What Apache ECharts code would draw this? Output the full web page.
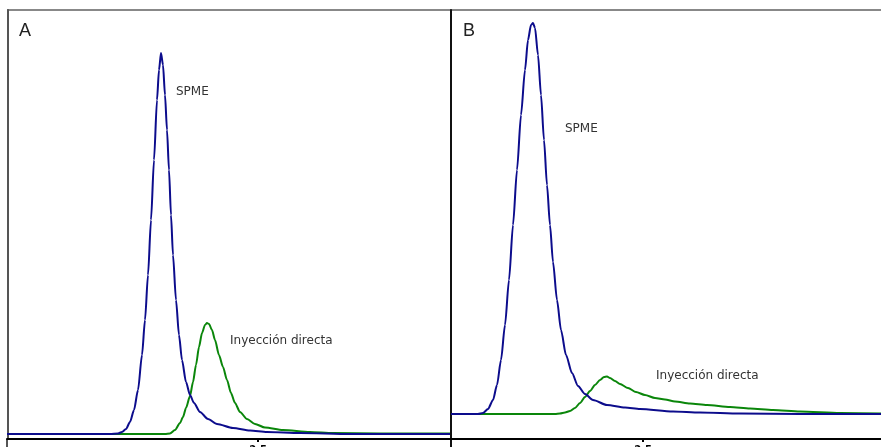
<!DOCTYPE html>
<html>
<head>
<meta charset="utf-8">
<script src="https://cdn.jsdelivr.net/npm/echarts@6/dist/echarts.min.js"></script>
<style>
  html, body { margin: 0; padding: 0; background: #fff; overflow: hidden; }
  #chart { width: 881px; height: 447px; }
</style>
</head>
<body>
<div id="chart"></div>
<script>
// Panel A — retention time (min) and detector response
const timeA_spme = [-0.01,0.52,1.02,1.10,1.14,1.18,1.22,1.26,1.30,1.34,1.37,1.40,1.43,1.46,1.49,1.51,1.53,1.55,1.57,1.59,1.61,1.63,1.65,1.68,1.71,1.74,1.78,1.82,1.86,1.92,2.00,2.09,2.25,2.42,2.59,2.92,3.42,3.92,4.42];
const respA_spme = [5,5,5,5.5,7,10,17,29,49,84,119,164,219,279,339,369,386,374,344,309,269,224,184,139,104,79,57,44,36,27,20,15,11,8.5,7,6,5,5,5];

const timeA_direct = [-0.01,1.57,1.62,1.67,1.72,1.75,1.78,1.82,1.85,1.88,1.91,1.94,1.97,1.99,2.01,2.04,2.07,2.11,2.15,2.19,2.23,2.27,2.32,2.39,2.47,2.57,2.75,3.02,3.25,3.72,4.42];
const respA_direct = [5,5,5.5,9,16,22,31,43,57,74,92,106,114,116,115,109,99,84,72,59,46,36,27,20,15,11.5,9,7,6,5.5,5.5];

// Panel B
const timeB_spme = [0.58,0.85,0.90,0.95,1.00,1.04,1.08,1.12,1.16,1.20,1.24,1.28,1.32,1.35,1.38,1.40,1.42,1.45,1.48,1.51,1.54,1.57,1.60,1.64,1.68,1.73,1.79,1.85,1.92,2.00,2.14,2.32,2.47,2.80,3.07,3.47,4.07,4.88];
const respB_spme = [25,25,26,30,39,54,79,114,159,214,269,324,369,399,414,416,411,384,344,299,254,214,177,139,109,84,66,53,45,39,34,31.5,30,27.5,26.5,25.5,25,25];

const timeB_direct = [0.58,1.62,1.67,1.72,1.77,1.82,1.87,1.92,1.97,2.02,2.07,2.11,2.14,2.17,2.22,2.27,2.35,2.43,2.52,2.62,2.72,2.82,2.97,3.14,3.37,3.57,3.80,4.07,4.47,4.88];
const respB_direct = [25,25,25.5,26.5,28,31,36,42,48,54,59,62,62.5,61,58,55,51,47,44,41,39.5,37.5,35.5,34,32,30.5,29,27.5,26,25.5];

const tickLabels = [2.5];
const panelNames = ['A', 'B'];
const seriesNames = ['SPME', 'Inyección directa'];

const BLUE = '#0c0c8c';
const GREEN = '#0a860a';

function zip(xs, ys) { return xs.map((x, i) => [x, ys[i]]); }

function xAxisFor(gridIndex, min, max) {
  return {
    type: 'value', gridIndex, min, max,
    splitLine: { show: false },
    axisLine: { show: true, onZero: false, lineStyle: { color: '#000', width: 2 } },
    axisTick: { show: true, customValues: tickLabels, length: 3, inside: false, lineStyle: { color: '#000', width: 2 } },
    axisLabel: { show: true, customValues: tickLabels, margin: 6, fontSize: 10, fontWeight: 'bold', color: '#000',
                 fontFamily: 'DejaVu Sans', hideOverlap: false, formatter: v => v.toFixed(1) }
  };
}

function yAxisFor(gridIndex, color) {
  return {
    type: 'value', gridIndex, min: 0, max: 429,
    splitLine: { show: false },
    axisLine: { show: true, lineStyle: { color, width: 2 } },
    axisTick: { show: false },
    axisLabel: { show: false }
  };
}

function lineSeries(name, xi, data, color) {
  return {
    type: 'line', name, xAxisIndex: xi, yAxisIndex: xi,
    data, showSymbol: false, smooth: 0.25, smoothMonotone: 'x',
    lineStyle: { color, width: 2 }, silent: true, animation: false
  };
}

const textStyle = { fill: '#333', font: '12px "DejaVu Sans"' };

const chart = echarts.init(document.getElementById('chart'), null, { renderer: 'canvas' });
chart.setOption({
  backgroundColor: '#fff',
  animation: false,
  grid: [
    { left: 7, top: 10, width: 443, height: 429, containLabel: false, outerBoundsMode: 'none' },
    { left: 451, top: 10, width: 430, height: 429, containLabel: false, outerBoundsMode: 'none' }
  ],
  xAxis: [xAxisFor(0, -0.01, 4.42), xAxisFor(1, 0.58, 4.88)],
  yAxis: [yAxisFor(0, '#555'), yAxisFor(1, '#111')],
  series: [
    lineSeries(seriesNames[1], 0, zip(timeA_direct, respA_direct), GREEN),
    lineSeries(seriesNames[0], 0, zip(timeA_spme, respA_spme), BLUE),
    lineSeries(seriesNames[1], 1, zip(timeB_direct, respB_direct), GREEN),
    lineSeries(seriesNames[0], 1, zip(timeB_spme, respB_spme), BLUE)
  ],
  graphic: [
    { type: 'line', shape: { x1: 7, y1: 10, x2: 881, y2: 10 }, style: { stroke: '#888', lineWidth: 2 } },
    { type: 'line', shape: { x1: 7, y1: 439, x2: 7, y2: 447 }, style: { stroke: '#555', lineWidth: 2 } },
    { type: 'line', shape: { x1: 451, y1: 439, x2: 451, y2: 447 }, style: { stroke: '#111', lineWidth: 2 } },
    { type: 'text', left: 19, top: 22, style: { text: panelNames[0], fill: '#222', font: '18px "Liberation Sans"' } },
    { type: 'text', left: 463, top: 22, style: { text: panelNames[1], fill: '#222', font: '18px "Liberation Sans"' } },
    { type: 'text', left: 176, top: 86, style: Object.assign({ text: seriesNames[0] }, textStyle) },
    { type: 'text', left: 230, top: 335, style: Object.assign({ text: seriesNames[1] }, textStyle) },
    { type: 'text', left: 565, top: 123, style: Object.assign({ text: seriesNames[0] }, textStyle) },
    { type: 'text', left: 656, top: 370, style: Object.assign({ text: seriesNames[1] }, textStyle) }
  ]
});
</script>
</body>
</html>
